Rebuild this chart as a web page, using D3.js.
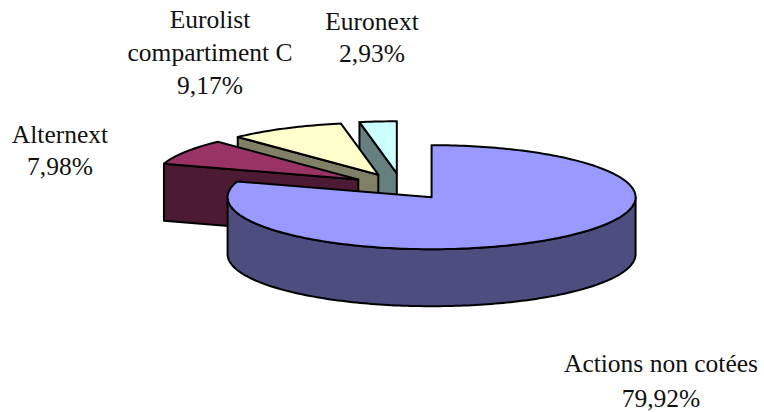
<!DOCTYPE html>
<html>
<head>
<meta charset="utf-8">
<script src="https://cdn.jsdelivr.net/npm/d3@7"></script>
<style>
  html, body { margin: 0; padding: 0; background: #fff; }
  svg { display: block; }
</style>
</head>
<body>
<svg id="chart" width="764" height="412"></svg>
<script>
const categories = ["Actions non cotées", "Alternext", "Eurolist compartiment C", "Euronext"];
const values = [79.92, 7.98, 9.17, 2.93];
const topColors = ["#9999ff", "#993366", "#ffffcc", "#ccffff"];
const sideColors = ["#4d4d80", "#4d1a33", "#808066", "#668080"];

const width = 764;
const height = 412;
const cx = 401.5;
const cy = 186.5;
const rx = 204;
const ry = 52;
const depth = 57;
const explode = 51;
const explodeY = 0.26;

// label anchors: x centre, first baseline, line height
const labelLayout = [
  { x: 661, y: 372, dy: 35, lines: (n, v) => [n, v] },
  { x: 60, y: 143, dy: 32, lines: (n, v) => [n, v] },
  { x: 210, y: 28, dy: 33, lines: (n, v) => ["Eurolist", "compartiment C", v] },
  { x: 372, y: 30, dy: 32, lines: (n, v) => [n, v] }
];

const svg = d3.select("#chart");

const pie = d3.pie().sort(null).value((d) => d).startAngle(0).endAngle(2 * Math.PI);
const slices = pie(values).map((d, i) => {
  const mid = (d.startAngle + d.endAngle) / 2;
  return {
    ...d,
    i,
    ox: cx + explode * Math.sin(mid),
    oy: cy - explode * explodeY * Math.cos(mid)
  };
});

const rim = (s, a) => [s.ox + rx * Math.sin(a), s.oy - ry * Math.cos(a)];
const down = (p) => [p[0], p[1] + depth];
const line = d3.line();
const arcAngles = (a0, a1) => {
  const n = Math.max(2, Math.ceil((a1 - a0) / 0.02));
  return d3.range(n + 1).map((k) => a0 + ((a1 - a0) * k) / n);
};

const g = svg.append("g").attr("stroke", "#000").attr("stroke-width", 2).attr("stroke-linejoin", "round");

// painter's order: back slices first, big slice last
[3, 2, 1, 0].forEach((idx) => {
  const s = slices[idx];
  const apex = [s.ox, s.oy];

  // cut wall, only when it faces the viewer
  if (Math.sin(s.startAngle) < -1e-6) {
    const p = rim(s, s.startAngle);
    g.append("path")
      .attr("fill", sideColors[idx])
      .attr("d", line([apex, p, down(p), down(apex)]) + "Z");
  }

  // outer wall, the front half of the rim
  const a0 = Math.max(s.startAngle, Math.PI / 2);
  const a1 = Math.min(s.endAngle, (3 * Math.PI) / 2);
  if (a1 > a0) {
    const rimPts = arcAngles(a0, a1).map((a) => rim(s, a));
    g.append("path")
      .attr("fill", sideColors[idx])
      .attr("d", line(rimPts.concat(rimPts.map(down).reverse())) + "Z");
  }

  // top face
  const topPts = arcAngles(s.startAngle, s.endAngle).map((a) => rim(s, a));
  g.append("path")
    .attr("fill", topColors[idx])
    .attr("d", line([apex].concat(topPts)) + "Z");
});

const fmt = (v) => v.toFixed(2).replace(".", ",") + "%";

categories.forEach((name, i) => {
  const l = labelLayout[i];
  const t = svg.append("text")
    .attr("text-anchor", "middle")
    .attr("font-family", "'Liberation Serif', serif")
    .attr("font-size", 25.5)
    .attr("fill", "#111");
  l.lines(name, fmt(values[i])).forEach((txt, k) => {
    t.append("tspan").attr("x", l.x).attr("y", l.y + k * l.dy).text(txt);
  });
});
</script>
</body>
</html>
